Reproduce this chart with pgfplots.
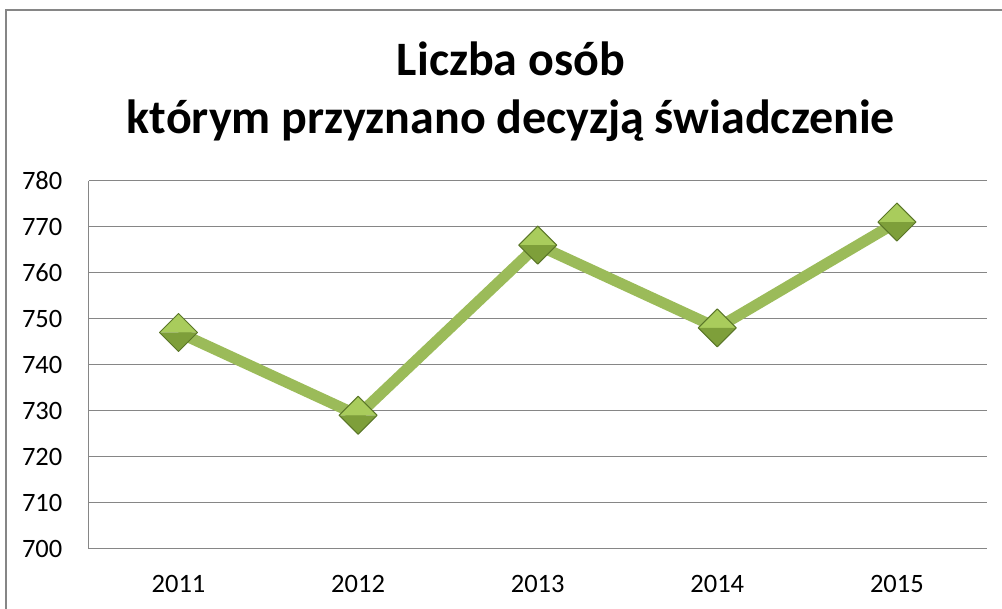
\documentclass[border=0pt]{standalone}
\usepackage{fontspec}
\setmainfont{Carlito}
\usepackage{pgfplots}
\pgfplotsset{compat=1.18}
\definecolor{gridgray}{HTML}{868686}
\definecolor{linegreen}{HTML}{9BBB59}
\definecolor{gemtop}{HTML}{A9CC5C}
\definecolor{gembot}{HTML}{7E9F3A}
\definecolor{gemedge}{HTML}{5A7628}
\pgfdeclareplotmark{gem}{%
  \pgfpathmoveto{\pgfqpoint{-\pgfplotmarksize}{0pt}}%
  \pgfpathlineto{\pgfqpoint{0pt}{\pgfplotmarksize}}%
  \pgfpathlineto{\pgfqpoint{\pgfplotmarksize}{0pt}}%
  \pgfpathclose
  \pgfsetfillcolor{gemtop}\pgfusepathqfill
  \pgfpathmoveto{\pgfqpoint{-\pgfplotmarksize}{0pt}}%
  \pgfpathlineto{\pgfqpoint{0pt}{-\pgfplotmarksize}}%
  \pgfpathlineto{\pgfqpoint{\pgfplotmarksize}{0pt}}%
  \pgfpathclose
  \pgfsetfillcolor{gembot}\pgfusepathqfill
  \pgfpathmoveto{\pgfqpoint{-\pgfplotmarksize}{0pt}}%
  \pgfpathlineto{\pgfqpoint{0pt}{\pgfplotmarksize}}%
  \pgfpathlineto{\pgfqpoint{\pgfplotmarksize}{0pt}}%
  \pgfpathlineto{\pgfqpoint{0pt}{-\pgfplotmarksize}}%
  \pgfpathclose
  \pgfsetstrokecolor{gemedge}\pgfsetlinewidth{0.5pt}\pgfusepathqstroke
}
\begin{document}
\begin{tikzpicture}
\path[use as bounding box] (0,0) rectangle (501pt,304.5pt);
\draw[gridgray, line width=1pt] (2.75pt,0) -- (2.75pt,299.5pt) -- (501pt,299.5pt);
\node[anchor=base, font=\fontsize{24}{28}\selectfont\bfseries] at (255.5pt,266.5pt) {Liczba osób};
\node[anchor=base, font=\fontsize{24}{28}\selectfont\bfseries] at (255.5pt,237.5pt) {którym przyznano decyzją świadczenie};
\begin{axis}[
  at={(44.35pt,30.15pt)}, anchor=south west,
  width=449pt, height=184pt, scale only axis,
  xmin=-0.5, xmax=4.5, ymin=700, ymax=780,
  xtick={0,1,2,3,4}, xticklabels={2011,2012,2013,2014,2015},
  ytick={700,710,...,780},
  axis lines=left,
  axis line style={-, draw=gridgray, line width=0.8pt},
  ymajorgrids, grid style={draw=gridgray, line width=0.8pt},
  major tick length=0pt,
  tick label style={font=\fontsize{13.25}{15}\selectfont},
  /pgf/number format/assume math mode=true,
  /pgf/number format/1000 sep={},
  yticklabel style={inner sep=0pt, xshift=-13pt},
  xticklabel style={inner sep=0pt, yshift=-13pt},
  clip=false,
]
\addplot[linegreen, line width=5.5pt, line join=round, mark=gem, mark size=9.5pt, mark options={solid}] coordinates {
(0,747) (1,729) (2,766) (3,748) (4,771)
};
\end{axis}
\end{tikzpicture}
\end{document}
